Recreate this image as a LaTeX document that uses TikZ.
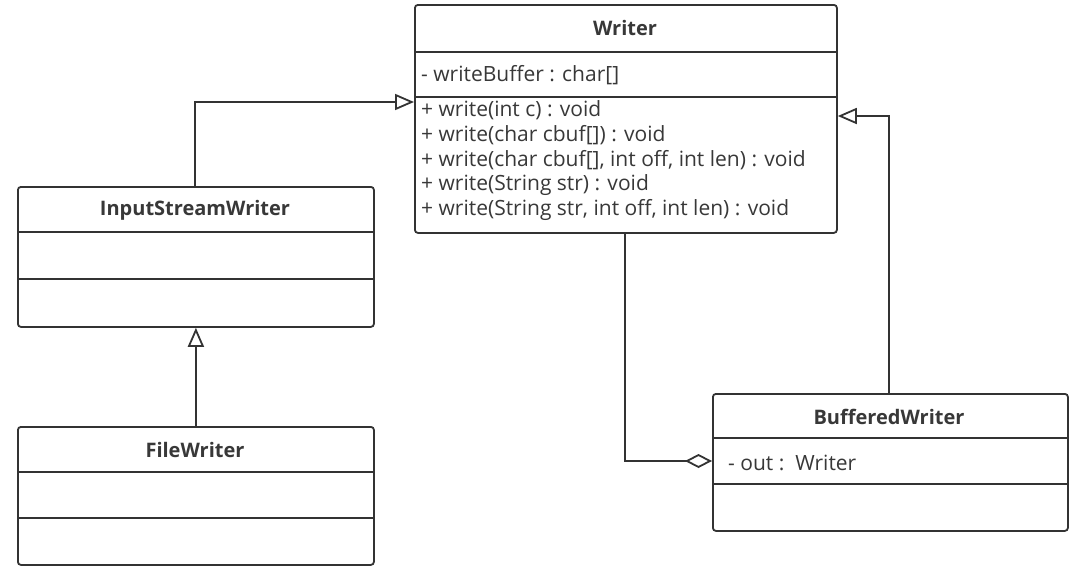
\documentclass[tikz,border=0pt]{standalone}
\usepackage{fontspec}
\setmainfont{Open Sans}
\usetikzlibrary{arrows.meta}
\definecolor{linec}{HTML}{333333}
\definecolor{textc}{HTML}{383838}
\begin{document}
\begin{tikzpicture}[x=1pt,y=-1pt,
  cls/.style={draw=linec, line width=1.8pt, rounded corners=3pt, inner sep=0pt, anchor=north west, fill=white},
  sep/.style={draw=linec, line width=1.8pt},
  ctitle/.style={font=\fontsize{20}{22}\selectfont\bfseries, text=textc, inner sep=0pt},
  attr/.style={font=\fontsize{21}{22}\selectfont, text=textc, inner sep=0pt, anchor=west},
  conn/.style={draw=linec, line width=1.8pt},
  inh/.style={conn, -{Triangle[open, length=19pt, width=16pt, fill=white]}},
  agg/.style={conn, {Diamond[open, length=27pt, width=14pt, fill=white]}-}
]
\useasboundingbox (0,0) rectangle (1085,571);

% Writer
\node[cls, minimum width=422pt, minimum height=228pt] (writer) at (414,4) {};
\draw[sep] (414,52) -- (836,52);
\draw[sep] (414,97) -- (836,97);
\node[ctitle] (wt) at (625,28) {Writer};
\node[attr] (wa) at (421,75) {- writeBuffer : char[]};
\node[attr] (m1) at (421,110) {+ write(int c) : void};
\node[attr] (m2) at (421,135) {+ write(char cbuf[]) : void};
\node[attr] (m3) at (421,160) {+ write(char cbuf[], int off, int len) : void};
\node[attr] (m4) at (421,185) {+ write(String str) : void};
\node[attr] (m5) at (421,210) {+ write(String str, int off, int len) : void};

% InputStreamWriter
\node[cls, minimum width=356pt, minimum height=140pt] (isw) at (17,186) {};
\draw[sep] (17,232) -- (373,232);
\draw[sep] (17,279) -- (373,279);
\node[ctitle] (iswt) at (195,210) {InputStreamWriter};

% FileWriter
\node[cls, minimum width=356pt, minimum height=138pt] (fw) at (17,426) {};
\draw[sep] (17,472) -- (373,472);
\draw[sep] (17,518) -- (373,518);
\node[ctitle] (fwt) at (195,450) {FileWriter};

% BufferedWriter
\node[cls, minimum width=355pt, minimum height=137pt] (bw) at (712,393) {};
\draw[sep] (712,438) -- (1067,438);
\draw[sep] (712,484) -- (1067,484);
\node[ctitle] (bwt) at (889,417) {BufferedWriter};
\node[attr] (bwa) at (728,463) {- out :\ \ Writer};

% connectors
\coordinate (c1) at (195,102);
\draw[inh] (isw.north -| c1) -- (c1) -- (writer.west |- c1);
\draw[inh] (fw.north) -- (isw.south);
\coordinate (c2) at (889,116);
\draw[inh] (bw.north -| c2) -- (c2) -- (writer.east |- c2);
\coordinate (c3) at (625,461);
\draw[agg] (bw.west |- c3) -- (c3) -- (writer.south -| c3);
\end{tikzpicture}
\end{document}
